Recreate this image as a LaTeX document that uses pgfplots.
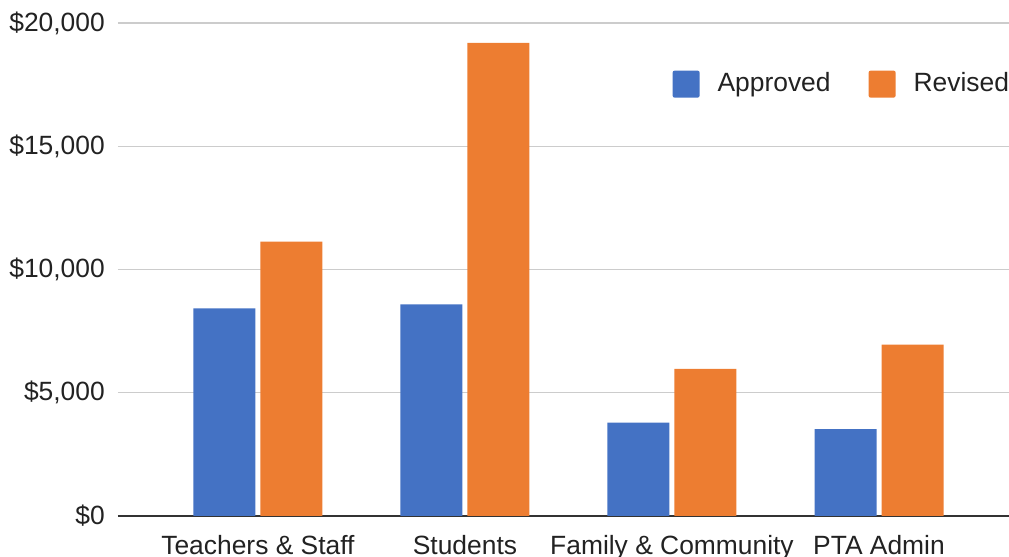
\documentclass[border=0pt]{standalone}
\usepackage{pgfplots}
\pgfplotsset{compat=1.18}
\usepackage{fontspec}
\setmainfont{Liberation Sans}
\definecolor{cblue}{HTML}{4472C4}
\definecolor{corange}{HTML}{ED7D31}
\definecolor{cgrid}{HTML}{CCCCCC}
\definecolor{caxis}{HTML}{333333}
\definecolor{ctext}{HTML}{222222}
\begin{document}
\fontsize{26.4bp}{31bp}\selectfont
\begin{tikzpicture}
\begin{axis}[name=ax, scale only axis, width=891bp, height=493bp,
  ybar=5bp, bar width=62bp,
  xmin=-0.676, xmax=3.628, ymin=0, ymax=20000,
  scaled y ticks=false,
  xtick={0,1,2,3},
  xticklabels={Teachers \& Staff, Students, Family \& Community, PTA Admin},
  ytick={0,5000,10000,15000,20000},
  yticklabels={{\$0},{\$5,000},{\$10,000},{\$15,000},{\$20,000}},
  major tick length=0pt,
  axis x line*=bottom, axis y line*=left,
  x axis line style={draw=caxis, line width=1.3bp, -},
  y axis line style={draw=none},
  ymajorgrids, grid style={cgrid, line width=1.3bp},
  xticklabel style={anchor=base, yshift=-38bp, inner sep=0pt, text=ctext, font=\fontsize{26.4bp}{31bp}\selectfont},
  yticklabel style={anchor=east, xshift=-13bp, inner sep=0pt, text=ctext, font=\fontsize{26.4bp}{31bp}\selectfont},
  legend columns=2,
  legend style={draw=none, fill=none, inner sep=0pt, outer sep=0pt,
    at={(rel axis cs:1,0.876)}, anchor=east,
    nodes={inner sep=0pt, text=ctext}, font=\fontsize{26.4bp}{31bp}\selectfont,
    /tikz/every odd column/.append style={column sep=18bp},
    /tikz/every even column/.append style={column sep=38bp}},
]
\addplot[fill=cblue, draw=none,
  legend image code/.code={\fill[cblue, rounded corners=2bp] (0bp,-13.5bp) rectangle (27bp,13.5bp);}]
  coordinates {(0,8420) (1,8590) (2,3785) (3,3520)};
\addplot[fill=corange, draw=none,
  legend image code/.code={\fill[corange, rounded corners=2bp] (0bp,-13.5bp) rectangle (27bp,13.5bp);}]
  coordinates {(0,11130) (1,19190) (2,5965) (3,6950)};
\legend{Approved, Revised}
\end{axis}
\pgfresetboundingbox
\path ([xshift=-118bp,yshift=-41bp]ax.south west) rectangle ([yshift=23bp]ax.north east);
\end{tikzpicture}
\end{document}
